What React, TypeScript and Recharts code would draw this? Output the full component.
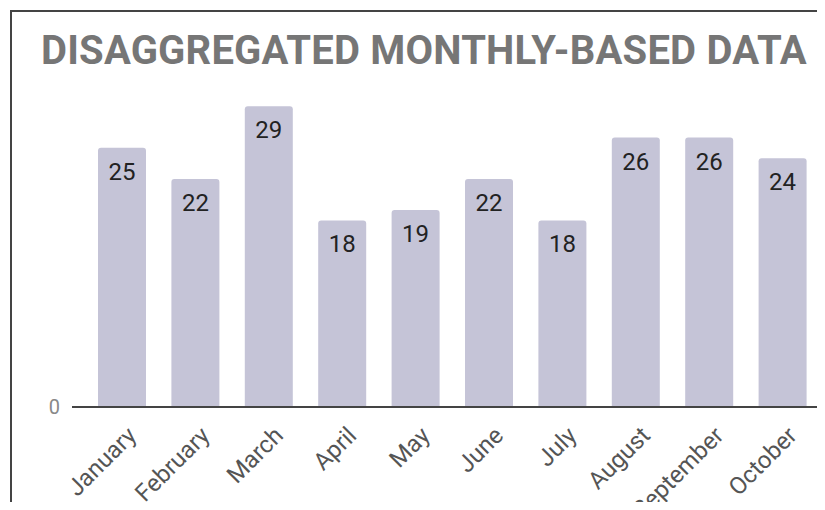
import React from 'react';
import { BarChart, Bar, XAxis, YAxis, LabelList } from 'recharts';

const months = ['January', 'February', 'March', 'April', 'May', 'June', 'July', 'August', 'September', 'October'];
const counts = [25, 22, 29, 18, 19, 22, 18, 26, 26, 24];
const yTicks = [0];

const data = months.map((m, i) => ({ month: m, value: counts[i] }));

const FONT = 'Roboto, sans-serif';

const MonthTick = (props: any) => {
  const { x, y, payload } = props;
  return (
    <g transform={`translate(${x + 16},${y + 22})`}>
      <text x={0} y={0} textAnchor="end" transform="rotate(-45)" fill="#555" fontSize={24} fontFamily={FONT}>
        {payload.value}
      </text>
    </g>
  );
};

export default function App() {
  return (
    <div style={{ position: 'relative', width: 825, height: 510, margin: -8, overflow: 'hidden', background: '#fff' }}>
      <div
        style={{
          position: 'absolute',
          left: 10,
          top: 10,
          width: 900,
          height: 600,
          border: '2px solid #444',
        }}
      />
      <div
        style={{
          position: 'absolute',
          left: 41,
          top: 31,
          fontFamily: FONT,
          fontWeight: 700,
          fontSize: 40,
          lineHeight: '40px',
          letterSpacing: 0.2,
          color: '#767676',
          whiteSpace: 'nowrap',
        }}
      >
        DISAGGREGATED MONTHLY-BASED DATA
      </div>
      <div style={{ position: 'absolute', left: 0, top: 0 }}>
        <BarChart width={825} height={510} data={data} margin={{ top: 96, right: 0, bottom: 43, left: 0 }}>
          <XAxis
            dataKey="month"
            interval={0}
            height={60}
            padding={{ left: 13, right: 6 }}
            tickLine={false}
            axisLine={{ stroke: '#444', strokeWidth: 2 }}
            tick={<MonthTick />}
          />
          <YAxis
            width={72}
            domain={[0, 30]}
            ticks={yTicks}
            axisLine={false}
            tickLine={false}
            tick={{ fill: '#888', fontSize: 20, fontFamily: FONT, dx: -4 }}
          />
          <Bar dataKey="value" fill="#c5c4d7" barSize={48} radius={[3, 3, 0, 0]} isAnimationActive={false}>
            <LabelList dataKey="value" position="insideTop" offset={15} fill="#222" fontSize={24} fontFamily={FONT} />
          </Bar>
        </BarChart>
      </div>
    </div>
  );
}
